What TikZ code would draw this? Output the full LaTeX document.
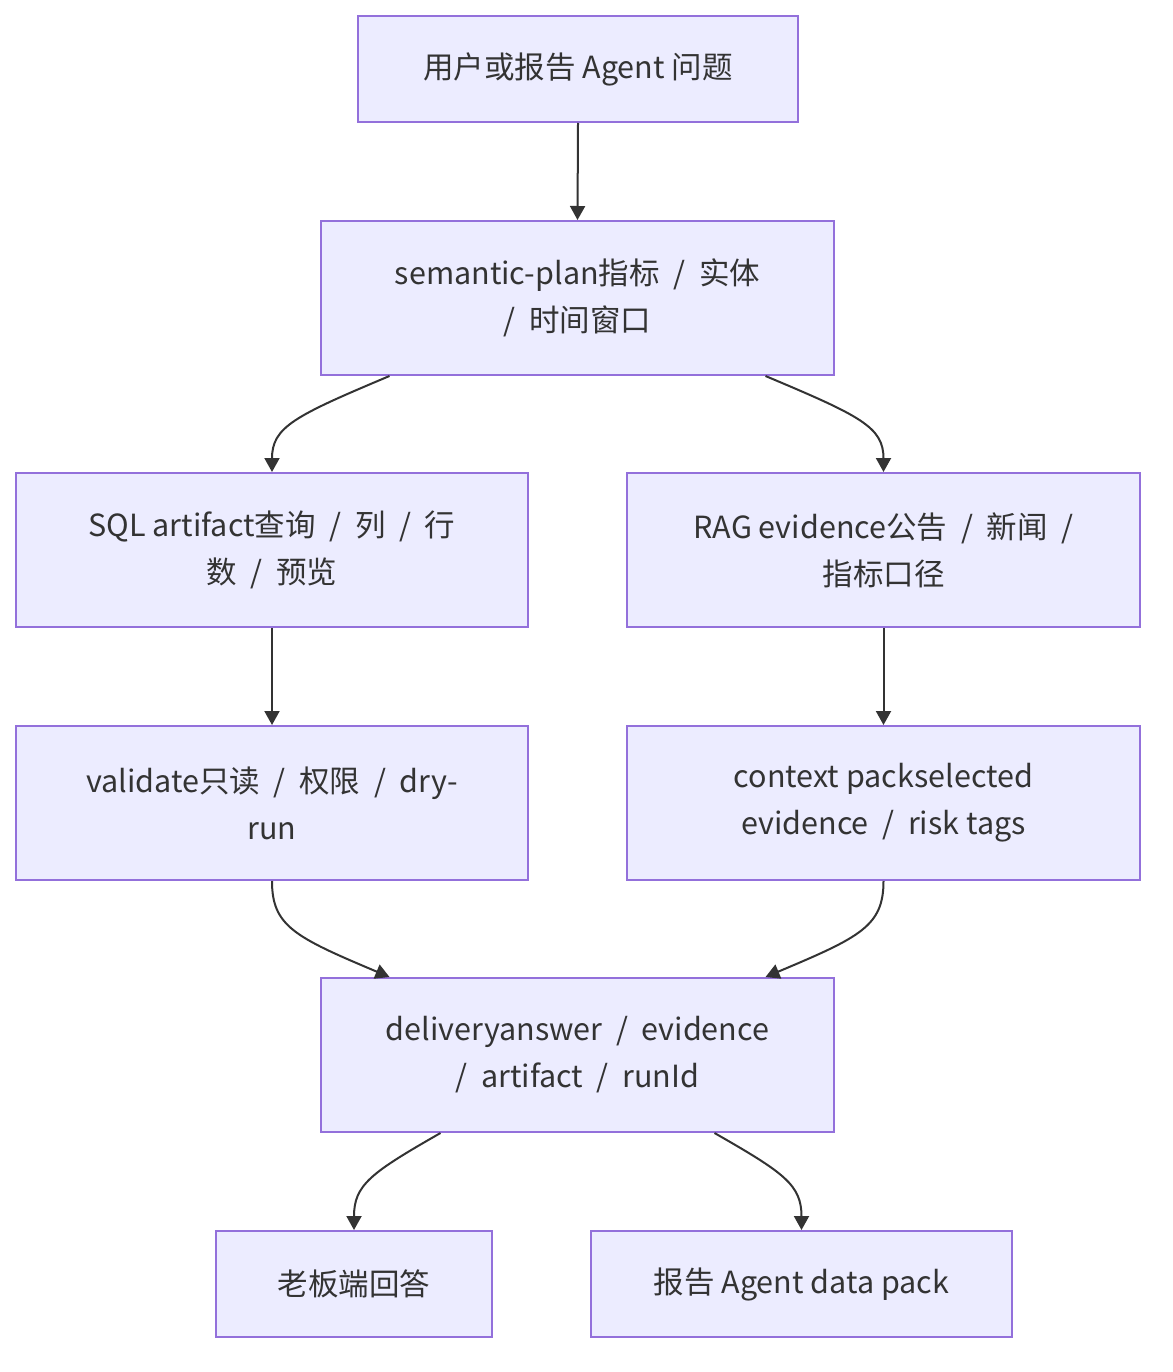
\documentclass[tikz,border=0pt]{standalone}
\usepackage{fontspec}
\setmainfont{Noto Sans CJK SC}
\usetikzlibrary{arrows.meta,calc}
\definecolor{boxfill}{HTML}{ECECFF}
\definecolor{boxline}{HTML}{9370DB}
\definecolor{ink}{HTML}{333333}
\newcommand{\sls}{\hspace{0.45em}/\hspace{0.45em}}
\tikzset{
  box/.style={draw=boxline, fill=boxfill, line width=2pt, text=ink, inner sep=0pt, align=center,
    font=\fontsize{30.5}{47}\selectfont},
  link/.style={draw=ink, line width=2pt, -{Triangle[length=14pt,width=15pt]}}
}
\begin{document}
\begin{tikzpicture}[x=1pt,y=-1pt]
\useasboundingbox (0,0) rectangle (1172,1372);
\node[box, minimum width=440pt, minimum height=106pt] (top) at (578,69) {用户或报告 Agent 问题};
\node[box, minimum width=513pt, minimum height=154pt] (sem) at (577.5,298) {semantic-plan指标\sls 实体\\/\hspace{0.45em}时间窗口};
\node[box, minimum width=512pt, minimum height=154pt] (sql) at (272,550) {SQL artifact查询\sls 列\sls 行\\数\sls 预览};
\node[box, minimum width=513pt, minimum height=154pt] (rag) at (883.5,550) {RAG evidence公告\sls 新闻\hspace{0.45em}/\\指标口径};
\node[box, minimum width=512pt, minimum height=154pt] (val) at (272,803) {validate只读\sls 权限\sls dry-\\run};
\node[box, minimum width=513pt, minimum height=154pt] (ctx) at (883.5,803) {context packselected\\evidence\sls risk tags};
\node[box, minimum width=513pt, minimum height=154pt] (del) at (577.5,1055) {deliveryanswer\sls evidence\\/\hspace{0.45em}artifact\sls runId};
\node[box, minimum width=276pt, minimum height=106pt] (boss) at (354,1284) {老板端回答};
\node[box, minimum width=421pt, minimum height=106pt] (rep) at (801.5,1284) {报告 Agent data pack};

\draw[link] (top.south) -- (sem.north);
\draw[link] ([xshift=-188pt]sem.south) .. controls +(-95,40) and +(0,-45) .. (sql.north);
\draw[link] ([xshift=188pt]sem.south) .. controls +(95,40) and +(0,-45) .. (rag.north);
\draw[link] (sql.south) -- (val.north);
\draw[link] (rag.south) -- (ctx.north);
\draw[link] (val.south) .. controls +(0,45) and +(-95,-40) .. ([xshift=-188pt]del.north);
\draw[link] (ctx.south) .. controls +(0,45) and +(95,-40) .. ([xshift=188pt]del.north);
\draw[link] ([xshift=-137pt]del.south) .. controls +(-70,40) and +(0,-45) .. (boss.north);
\draw[link] ([xshift=137pt]del.south) .. controls +(70,40) and +(0,-45) .. (rep.north);
\end{tikzpicture}
\end{document}
